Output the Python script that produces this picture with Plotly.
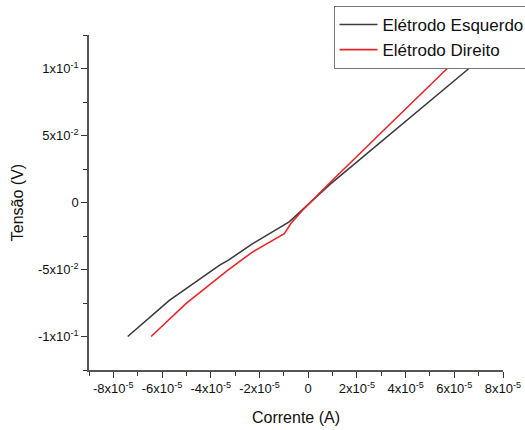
import plotly.graph_objects as go

# Data (current in A, voltage in V)
esq_I = [-7.41e-5, -5.70e-5, -3.65e-5, -3.24e-5, -2.28e-5, -0.78e-5, 0.86e-5, 3.5e-5, 6.60e-5]
esq_V = [-0.100, -0.0731, -0.0469, -0.0426, -0.0307, -0.0145, 0.0129, 0.0530, 0.1000]

dir_I = [-6.45e-5, -5.02e-5, -3.31e-5, -2.29e-5, -0.98e-5, -0.71e-5, -0.23e-5, 0.86e-5, 3.3e-5, 5.71e-5]
dir_V = [-0.100, -0.0755, -0.0506, -0.0370, -0.0232, -0.0157, -0.0058, 0.0142, 0.0575, 0.1000]

x_tickvals = [-8e-5, -6e-5, -4e-5, -2e-5, 0, 2e-5, 4e-5, 6e-5, 8e-5]
x_ticktext = ["-8x10<sup>-5</sup>", "-6x10<sup>-5</sup>", "-4x10<sup>-5</sup>", "-2x10<sup>-5</sup>", "0",
              "2x10<sup>-5</sup>", "4x10<sup>-5</sup>", "6x10<sup>-5</sup>", "8x10<sup>-5</sup>"]
x_minor = [-9e-5, -7e-5, -5e-5, -3e-5, -1e-5, 1e-5, 3e-5, 5e-5, 7e-5]

y_tickvals = [-0.1, -0.05, 0, 0.05, 0.1]
y_ticktext = ["-1x10<sup>-1</sup>", "-5x10<sup>-2</sup>", "0", "5x10<sup>-2</sup>", "1x10<sup>-1</sup>"]
y_minor = [-0.125, -0.075, -0.025, 0.025, 0.075, 0.125]

font = "Liberation Sans, Arial, sans-serif"

fig = go.Figure()
fig.add_trace(go.Scatter(x=esq_I, y=esq_V, mode="lines", name="Elétrodo Esquerdo",
                         line=dict(color="#3c3c3c", width=1.6)))
fig.add_trace(go.Scatter(x=dir_I, y=dir_V, mode="lines", name="Elétrodo Direito",
                         line=dict(color="#e8262b", width=1.6)))

axis_common = dict(showgrid=False, zeroline=False, showline=True, linecolor="#555555", linewidth=1.5,
                   ticks="outside", ticklen=6, tickwidth=1.2, tickcolor="#333333", automargin=False,
                   tickfont=dict(family=font, size=13, color="#111111"))

fig.update_xaxes(range=[-9e-5, 8e-5], tickmode="array", tickvals=x_tickvals, ticktext=x_ticktext,
                 minor=dict(tickmode="array", tickvals=x_minor, ticklen=4, tickcolor="#333333", ticks="outside"),
                 title=dict(text="Corrente (A)", font=dict(family=font, size=16, color="#111111"), standoff=16),
                 **axis_common)
fig.update_yaxes(range=[-0.125, 0.125], tickmode="array", tickvals=y_tickvals, ticktext=y_ticktext,
                 minor=dict(tickmode="array", tickvals=y_minor, ticklen=4, tickcolor="#333333", ticks="outside"),
                 title=dict(text="Tensão (V)", font=dict(family=font, size=16, color="#111111"), standoff=10),
                 **axis_common)

fig.update_layout(
    width=525, height=430,
    margin=dict(l=89, r=22, t=35, b=60, autoexpand=False),
    paper_bgcolor="white", plot_bgcolor="white",
    font=dict(family=font, color="#111111"),
    legend=dict(x=0.5906, y=1.0866, xanchor="left", yanchor="top",
                bordercolor="#777777", borderwidth=1, bgcolor="rgba(255,255,255,0)",
                font=dict(family=font, size=17, color="#111111"),
                tracegroupgap=0, itemwidth=38),
)

fig.write_html("out.html")
